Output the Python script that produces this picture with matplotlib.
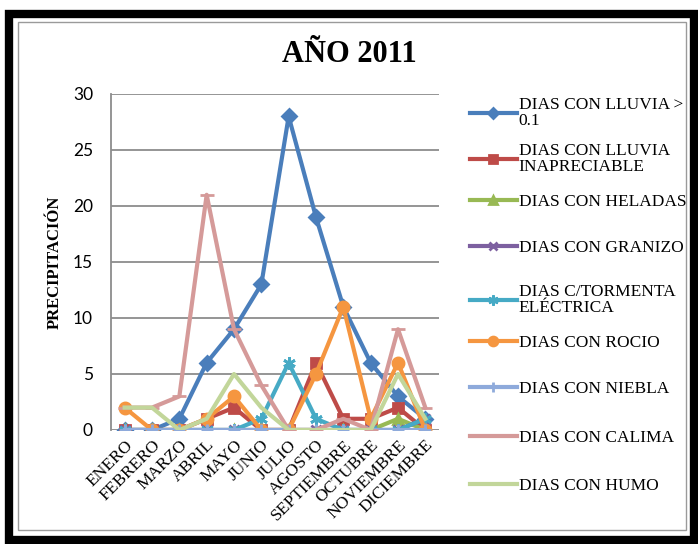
import matplotlib.pyplot as plt
from matplotlib.patches import Rectangle

# datos
meses = ["ENERO", "FEBRERO", "MARZO", "ABRIL", "MAYO", "JUNIO", "JULIO",
         "AGOSTO", "SEPTIEMBRE", "OCTUBRE", "NOVIEMBRE", "DICIEMBRE"]

lluvia = [0, 0, 1, 6, 9, 13, 28, 19, 11, 6, 3, 1]
inapreciable = [0, 0, 0, 1, 2, 0, 0, 6, 1, 1, 2, 0]
heladas = [0, 0, 0, 0, 0, 0, 0, 0, 0, 0, 1, 0]
granizo = [0, 0, 0, 0, 0, 0, 0, 0, 0, 0, 0, 1]
tormenta = [0, 0, 0, 0, 0, 1, 6, 1, 0, 0, 0, 1]
rocio = [2, 0, 0, 1, 3, 0, 0, 5, 11, 1, 6, 0]
niebla = [0, 0, 0, 0, 0, 0, 0, 0, 0, 0, 0, 0]
calima = [2, 2, 3, 21, 9, 4, 0, 0, 1, 0, 9, 2]
humo = [2, 2, 0, 1, 5, 2, 0, 0, 0, 0, 5, 1]

etiquetas = ["DIAS CON LLUVIA >\n0.1", "DIAS CON LLUVIA\nINAPRECIABLE",
             "DIAS CON HELADAS", "DIAS CON GRANIZO",
             "DIAS C/TORMENTA\nELÉCTRICA", "DIAS CON ROCIO",
             "DIAS CON NIEBLA", "DIAS CON CALIMA", "DIAS CON HUMO"]

series = [lluvia, inapreciable, heladas, granizo, tormenta, rocio, niebla, calima, humo]
colores = ["#4A7EBB", "#BE4B48", "#98B954", "#7D60A0", "#46AAC5",
           "#F59640", "#8EAADB", "#D59A99", "#C2D69A"]
marcadores = ["D", "s", "^", "x", (6, 2, 0), "o", "+", "_", None]
tam = [7, 7, 7, 7, 9, 8, 9, 10, 0]

fig = plt.figure(figsize=(6.98, 5.44), dpi=100)

# marco negro y borde gris del area del grafico
fig.patches.append(Rectangle((9 / 698, 4 / 544), 685 / 698, 526 / 544, transform=fig.transFigure,
                             fill=False, edgecolor="black", linewidth=6))
fig.patches.append(Rectangle((18 / 698, 14 / 544), 668 / 698, 508 / 544, transform=fig.transFigure,
                             fill=False, edgecolor="#9A9A9A", linewidth=1))

ax = fig.add_axes([111 / 698, 114 / 544, 328 / 698, 336 / 544])
x = list(range(len(meses)))
lineas = []
for datos, lab, c, m, ms in zip(series, etiquetas, colores, marcadores, tam):
    ln, = ax.plot(x, datos, color=c, linewidth=3, marker=m, markersize=ms,
                  markeredgewidth=2, label=lab, solid_joinstyle="round")
    lineas.append(ln)

ax.set_xlim(-0.5, len(meses) - 0.5)
ax.set_ylim(0, 30)
ax.set_yticks(range(0, 31, 5))
ax.set_yticklabels([str(v) for v in range(0, 31, 5)], fontfamily="Lato", fontsize=12.5)
ax.set_xticks(x)
ax.set_xticklabels(meses, rotation=45, ha="right", rotation_mode="anchor",
                   fontfamily="Liberation Serif", fontsize=12.5)
ax.tick_params(axis="y", length=0, pad=13)
ax.tick_params(axis="x", length=0, pad=5)
ax.grid(axis="y", color="#8C8C8C", linewidth=1.3)
ax.set_axisbelow(True)
for s in ["top", "right", "bottom"]:
    ax.spines[s].set_visible(False)
ax.spines["left"].set_color("#8C8C8C")
ax.spines["left"].set_linewidth(1.3)

ax.set_ylabel("PRECIPITACIÓN", fontfamily="Liberation Serif", fontweight="bold",
              fontsize=12, labelpad=7)
fig.text(349 / 698, 1 - 55 / 544, "AÑO 2011", ha="center", va="center",
         fontfamily="Liberation Serif", fontweight="bold", fontsize=22)

# leyenda: una entrada por serie, con espaciado uniforme como en Excel
centros = [113, 159, 202, 248, 300, 343, 389, 438, 486]
for ln, lab, yc in zip(lineas, etiquetas, centros):
    leg = fig.legend([ln], [lab], loc="center left", bbox_to_anchor=(470 / 698, 1 - yc / 544),
                     frameon=False, prop={"family": "Liberation Serif", "size": 12.5},
                     handlelength=2.7, handletextpad=0.1, borderaxespad=0, borderpad=0,
                     markerscale=0.8)
    for t in leg.get_texts():
        t.set_linespacing(0.95)

fig.savefig("out.png", dpi=100)
